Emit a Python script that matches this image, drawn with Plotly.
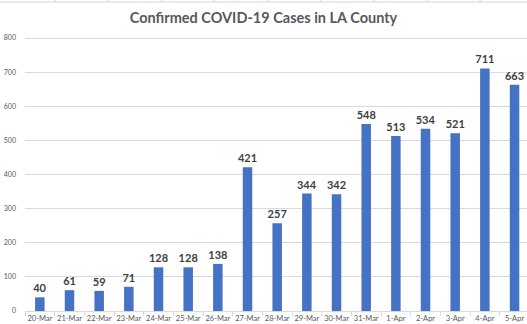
import plotly.graph_objects as go

dates = ["20-Mar", "21-Mar", "22-Mar", "23-Mar", "24-Mar", "25-Mar", "26-Mar", "27-Mar",
         "28-Mar", "29-Mar", "30-Mar", "31-Mar", "1-Apr", "2-Apr", "3-Apr", "4-Apr", "5-Apr"]
cases = [40, 61, 59, 71, 128, 128, 138, 421, 257, 344, 342, 548, 513, 534, 521, 711, 663]
y_ticks = [0, 100, 200, 300, 400, 500, 600, 700, 800]

fig = go.Figure(go.Bar(
    x=dates, y=cases,
    marker=dict(color="#4472C4", line=dict(width=0)),
    width=0.32,
    text=[str(v) for v in cases],
    textposition="outside",
    constraintext="none",
    textfont=dict(family="Lato", size=11, color="#404040", weight="bold"),
    cliponaxis=False,
))

fig.update_layout(
    width=527, height=324,
    margin=dict(l=25, r=0, t=37, b=13),
    paper_bgcolor="white", plot_bgcolor="white",
    showlegend=False,
    title=dict(text="<b>Confirmed COVID-19 Cases in LA County</b>",
               x=0.5, xanchor="center", y=1 - 18 / 324, yanchor="middle",
               font=dict(family="Lato", size=14.5, color="#595959")),
    xaxis=dict(
        range=[-0.5, 16.42],
        tickson="boundaries", ticks="outside", ticklen=4, tickcolor="#d9d9d9",
        showline=True, linecolor="#d9d9d9", linewidth=1,
        showgrid=False,
        tickfont=dict(family="Lato", size=7.5, color="#595959"),
        tickangle=0,
    ),
    yaxis=dict(
        range=[0, 803], tickvals=y_ticks,
        showgrid=True, gridcolor="#d9d9d9", gridwidth=1,
        zeroline=False, showline=False,
        ticks="", ticklabelstandoff=8,
        tickfont=dict(family="Lato", size=7, color="#595959"),
    ),
    shapes=[dict(type="line", xref="paper", yref="paper",
                 x0=-25 / 502, x1=1, y0=1 + 35 / 274, y1=1 + 35 / 274,
                 line=dict(color="#d4d4d4", width=1))] + [
        dict(type="line", xref="paper", yref="paper",
             x0=(xp - 25) / 502, x1=(xp - 25) / 502,
             y0=1 + 35 / 274, y1=1 + 37 / 274,
             line=dict(color="#d4d4d4", width=1))
        for xp in [55, 108, 162, 214, 268, 321, 374, 427, 480]
    ],
)

fig.write_html("out.html")
